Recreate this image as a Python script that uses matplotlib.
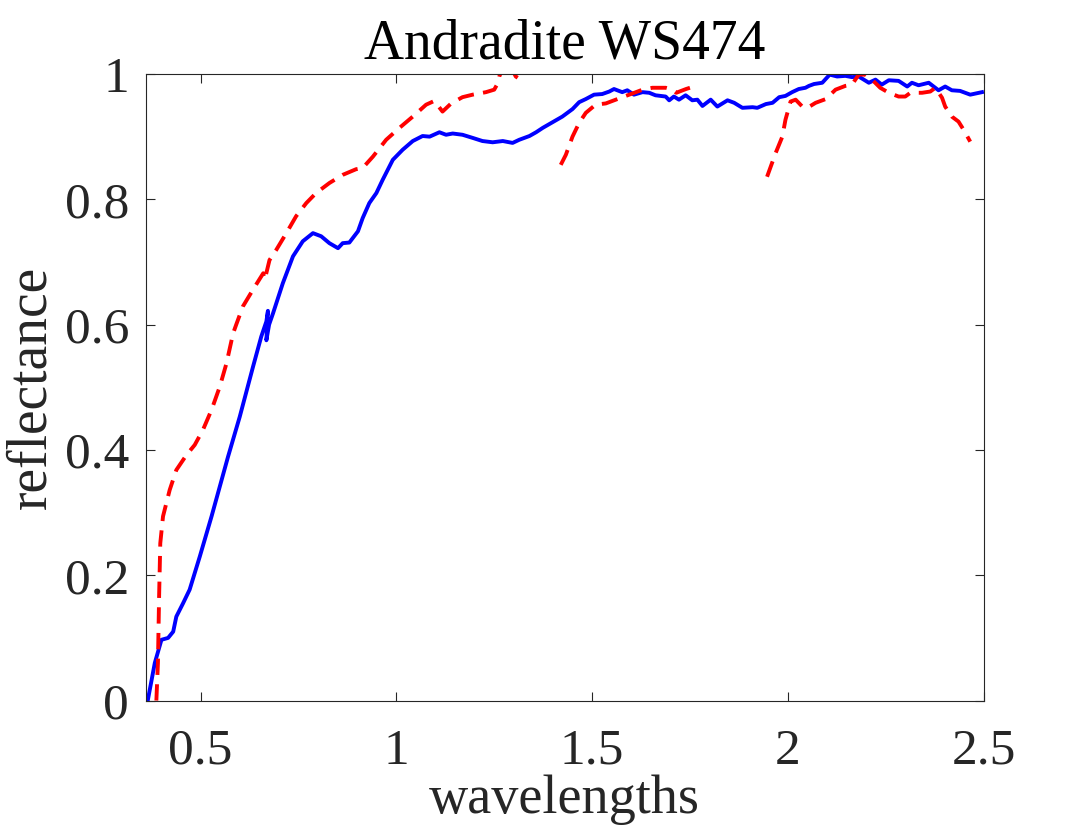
import numpy as np
import matplotlib
matplotlib.use("Agg")
import matplotlib.pyplot as plt

# Measured spectrum (solid blue)
meas_wl = [0.365, 0.383, 0.400, 0.417, 0.430, 0.438, 0.455, 0.472, 0.498, 0.528,
           0.570, 0.600, 0.634, 0.655, 0.668, 0.672, 0.668, 0.675, 0.685, 0.710,
           0.736, 0.761, 0.787, 0.808, 0.829, 0.851, 0.863, 0.880, 0.902, 0.914,
           0.931, 0.949, 0.965, 0.991, 1.016, 1.042, 1.067, 1.085, 1.110, 1.127,
           1.144, 1.169, 1.195, 1.220, 1.246, 1.272, 1.297, 1.314, 1.340, 1.357,
           1.374, 1.399, 1.424, 1.450, 1.467, 1.484, 1.505, 1.526, 1.544, 1.556,
           1.577, 1.590, 1.607, 1.629, 1.646, 1.662, 1.688, 1.697, 1.709, 1.722,
           1.739, 1.756, 1.769, 1.782, 1.803, 1.820, 1.846, 1.863, 1.884, 1.910,
           1.922, 1.944, 1.961, 1.978, 1.994, 2.011, 2.028, 2.045, 2.054, 2.067,
           2.088, 2.107, 2.126, 2.147, 2.164, 2.181, 2.207, 2.224, 2.240, 2.258,
           2.283, 2.305, 2.317, 2.334, 2.347, 2.360, 2.385, 2.402, 2.419, 2.440,
           2.466, 2.496]
meas_refl = [0.000, 0.060, 0.097, 0.100, 0.110, 0.134, 0.155, 0.177, 0.230, 0.294,
             0.389, 0.453, 0.533, 0.581, 0.605, 0.622, 0.575, 0.600, 0.618, 0.666,
             0.709, 0.733, 0.746, 0.741, 0.730, 0.722, 0.730, 0.731, 0.749, 0.770,
             0.794, 0.810, 0.831, 0.863, 0.879, 0.893, 0.901, 0.900, 0.907, 0.903,
             0.905, 0.903, 0.898, 0.893, 0.891, 0.893, 0.890, 0.895, 0.901, 0.907,
             0.914, 0.923, 0.932, 0.944, 0.955, 0.960, 0.967, 0.968, 0.972, 0.976,
             0.971, 0.974, 0.967, 0.971, 0.970, 0.966, 0.964, 0.958, 0.964, 0.959,
             0.966, 0.958, 0.959, 0.949, 0.959, 0.948, 0.958, 0.954, 0.946, 0.947,
             0.946, 0.952, 0.954, 0.963, 0.965, 0.971, 0.976, 0.978, 0.981, 0.984,
             0.986, 0.999, 0.996, 0.997, 0.995, 0.996, 0.986, 0.991, 0.983, 0.990,
             0.989, 0.980, 0.986, 0.982, 0.984, 0.986, 0.974, 0.980, 0.974, 0.973,
             0.967, 0.971]

# Model spectrum (dashed red), NaN marks the absorption band gaps
model_wl = [0.387, 0.391, 0.394, 0.397, 0.404, 0.421, 0.438, 0.464, 0.485, 0.506,
            0.528, 0.549, 0.566, 0.583, 0.591, 0.608, 0.634, 0.660, 0.664, 0.676,
            0.693, 0.719, 0.744, 0.770, 0.795, 0.829, 0.863, 0.897, 0.914, 0.940,
            0.974, 1.008, 1.042, 1.076, 1.097, 1.118, 1.140, 1.169, 1.195, 1.229,
            1.250, 1.259, 1.263, 1.272, 1.290, 1.305, 1.310,
            1.360,
            1.420, 1.433, 1.450, 1.467, 1.484, 1.509, 1.535, 1.569, 1.595, 1.629,
            1.654, 1.688, 1.705, 1.715, 1.740, 1.750,
            1.850,
            1.947, 1.969, 1.986, 1.994, 2.007, 2.020, 2.037, 2.050, 2.071, 2.097,
            2.122, 2.147, 2.164, 2.181, 2.198, 2.215, 2.236, 2.258, 2.283, 2.300,
            2.313, 2.343, 2.364, 2.377, 2.394, 2.402, 2.419, 2.436, 2.449, 2.466]
model_refl = [0.000, 0.060, 0.166, 0.251, 0.294, 0.336, 0.368, 0.392, 0.408, 0.432,
              0.464, 0.501, 0.538, 0.586, 0.600, 0.629, 0.656, 0.682, 0.672, 0.703,
              0.719, 0.746, 0.773, 0.794, 0.810, 0.826, 0.839, 0.848, 0.850, 0.868,
              0.895, 0.914, 0.932, 0.951, 0.957, 0.940, 0.953, 0.963, 0.967, 0.971,
              0.975, 0.985, 0.996, 1.010, 1.015, 0.996, 0.994,
              np.nan,
              0.855, 0.871, 0.900, 0.922, 0.938, 0.951, 0.953, 0.961, 0.967, 0.975,
              0.978, 0.978, 0.975, 0.970, 0.976, 0.978,
              np.nan,
              0.836, 0.874, 0.900, 0.927, 0.956, 0.959, 0.948, 0.946, 0.954, 0.960,
              0.975, 0.981, 0.983, 0.999, 0.999, 0.991, 0.978, 0.970, 0.964, 0.964,
              0.970, 0.970, 0.972, 0.978, 0.962, 0.948, 0.932, 0.924, 0.911, 0.892]

x_ticks = [0.5, 1, 1.5, 2, 2.5]
x_labels = ["0.5", "1", "1.5", "2", "2.5"]
y_ticks = [0, 0.2, 0.4, 0.6, 0.8, 1]
y_labels = ["0", "0.2", "0.4", "0.6", "0.8", "1"]

plt.rcParams["font.family"] = ["Liberation Serif", "DejaVu Serif"]

fig = plt.figure(figsize=(10.88, 8.36), dpi=100)
ax = fig.add_axes([0.134, 0.162, 0.770, 0.7495])

ax.plot(meas_wl, meas_refl, color="#0000ff", linewidth=2.8, solid_joinstyle="round")
ax.plot(model_wl, model_refl, color="#ff0000", linewidth=2.8, linestyle=(0, (4.2, 2.4)))

ax.set_xlim(0.36, 2.5)
ax.set_ylim(0, 1)
ax.set_xticks(x_ticks)
ax.set_xticklabels(x_labels)
ax.set_yticks(y_ticks)
ax.set_yticklabels(y_labels)

ax.tick_params(direction="in", length=6.5, width=0.8, top=True, right=True,
               labelsize=37, colors="#262626")
ax.tick_params(axis="x", pad=20)
ax.tick_params(axis="y", pad=12)
for s in ax.spines.values():
    s.set_color("#262626")
    s.set_linewidth(0.8)

ax.set_xlabel("wavelengths", fontsize=39, color="#262626", labelpad=0)
ax.set_ylabel("reflectance", fontsize=40, color="#262626", labelpad=5)
ax.set_title("Andradite WS474", fontsize=40, color="black", pad=11)

fig.savefig("out.png", dpi=100)
